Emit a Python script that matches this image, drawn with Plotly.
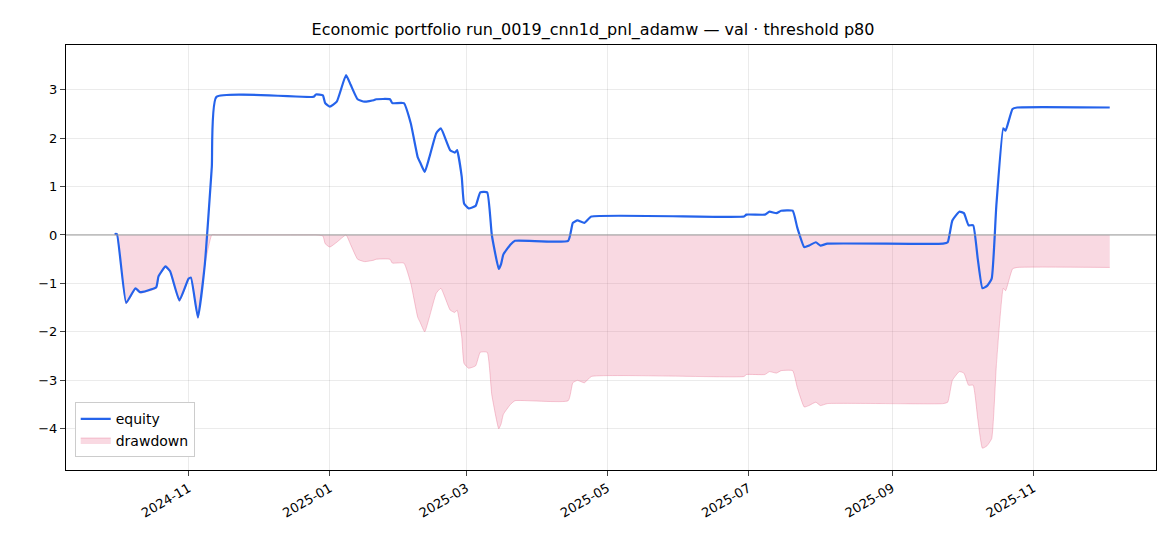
import numpy as np
import plotly.graph_objects as go

# equity curve
dates = [
    "2024-09-30", "2024-10-01", "2024-10-05", "2024-10-09", "2024-10-11", "2024-10-14",
    "2024-10-18", "2024-10-19", "2024-10-22", "2024-10-24", "2024-10-28", "2024-11-01",
    "2024-11-02", "2024-11-05", "2024-11-08", "2024-11-11", "2024-11-13", "2024-12-25",
    "2024-12-26", "2024-12-29", "2024-12-30", "2025-01-01", "2025-01-04", "2025-01-08",
    "2025-01-10", "2025-01-13", "2025-01-16", "2025-01-20", "2025-01-21", "2025-01-27",
    "2025-01-28", "2025-02-02", "2025-02-05", "2025-02-08", "2025-02-09", "2025-02-11",
    "2025-02-13", "2025-02-16", "2025-02-18", "2025-02-22", "2025-02-24", "2025-02-25",
    "2025-02-27", "2025-02-28", "2025-03-02", "2025-03-05", "2025-03-07", "2025-03-10",
    "2025-03-12", "2025-03-15", "2025-03-16", "2025-03-17", "2025-03-20", "2025-03-22",
    "2025-04-14", "2025-04-16", "2025-04-18", "2025-04-21", "2025-04-24", "2025-06-29",
    "2025-06-30", "2025-07-08", "2025-07-10", "2025-07-13", "2025-07-15", "2025-07-20",
    "2025-07-22", "2025-07-25", "2025-07-27", "2025-07-30", "2025-08-01", "2025-08-04",
    "2025-09-23", "2025-09-25", "2025-09-27", "2025-09-30", "2025-10-02", "2025-10-04",
    "2025-10-06", "2025-10-08", "2025-10-10", "2025-10-12", "2025-10-14", "2025-10-16",
    "2025-10-19", "2025-10-20", "2025-10-23", "2025-10-25", "2025-12-04",
]
equity = [
    0.02, 0.02, -1.4, -1.1, -1.18, -1.15,
    -1.08, -0.85, -0.65, -0.75, -1.35, -0.9,
    -0.88, -1.7, -0.6, 1.4, 2.85, 2.85,
    2.9, 2.88, 2.72, 2.65, 2.75, 3.3,
    3.1, 2.8, 2.75, 2.78, 2.8, 2.8,
    2.72, 2.72, 2.3, 1.6, 1.5, 1.3,
    1.6, 2.1, 2.2, 1.75, 1.7, 1.75,
    1.2, 0.65, 0.55, 0.6, 0.88, 0.88,
    0.0, -0.7, -0.6, -0.4, -0.2, -0.12,
    -0.12, 0.25, 0.3, 0.25, 0.38, 0.38,
    0.42, 0.42, 0.48, 0.45, 0.5, 0.5,
    0.15, -0.25, -0.22, -0.15, -0.22, -0.18,
    -0.18, -0.15, 0.3, 0.48, 0.45, 0.2,
    0.2, -0.5, -1.1, -1.05, -0.9, 0.6,
    2.2, 2.15, 2.6, 2.63, 2.63,
]

eq = np.array(equity)
drawdown = eq - np.maximum.accumulate(np.maximum(eq, 0))

fig = go.Figure()
fig.add_trace(go.Scatter(x=dates, y=drawdown, name="drawdown", fill="tozeroy",
                         fillcolor="rgba(232,120,150,0.28)",
                         line=dict(color="rgba(232,120,150,0.4)", width=1, shape="spline", smoothing=0.4)))
fig.add_trace(go.Scatter(x=dates, y=equity, name="equity",
                         line=dict(color="#2563eb", width=2.2, shape="spline", smoothing=0.4)))
fig.add_hline(y=0, line=dict(color="#999999", width=1))

axis = dict(showline=True, linecolor="black", mirror=True, ticks="outside", automargin=False,
            gridcolor="rgba(0,0,0,0.08)", zeroline=False, tickfont=dict(size=13, color="black"))
fig.update_layout(
    width=1170, height=546,
    margin=dict(l=58, r=22, t=37, b=84),
    plot_bgcolor="white", paper_bgcolor="white",
    font=dict(family="DejaVu Sans", color="black"),
    title=dict(text="Economic portfolio run_0019_cnn1d_pnl_adamw — val · threshold p80",
               x=0.5, xanchor="center", yref="container", y=0.96, yanchor="middle",
               font=dict(size=16), automargin=False),
    legend=dict(x=0.008, y=0.03, xanchor="left", yanchor="bottom", traceorder="reversed",
                bordercolor="#cccccc", borderwidth=1, font=dict(size=14)),
    xaxis=dict(axis, range=["2024-09-09", "2025-12-24"], tickformat="%Y-%m",
               dtick="M2", tick0="2024-11-01", tickangle=-30),
    yaxis=dict(axis, range=[-4.85, 3.92], dtick=1),
)
fig.write_html("out.html")
